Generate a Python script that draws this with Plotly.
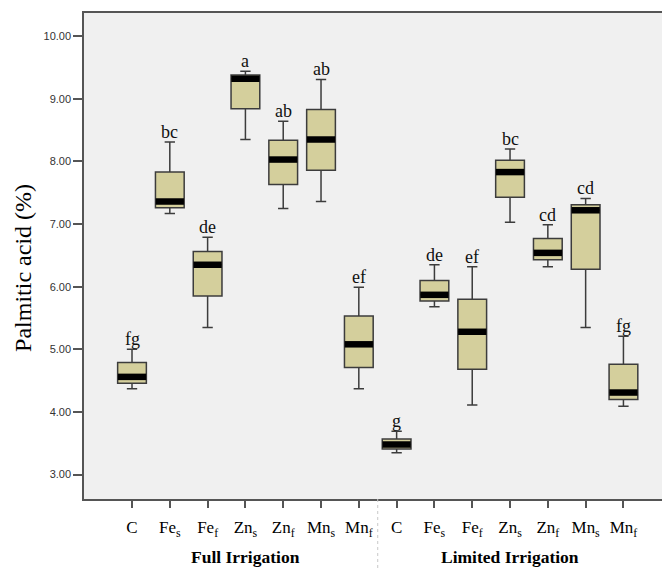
import plotly.graph_objects as go

# ---- data ----
tick_labels = ["C", "Fe<sub>s</sub>", "Fe<sub>f</sub>", "Zn<sub>s</sub>", "Zn<sub>f</sub>",
               "Mn<sub>s</sub>", "Mn<sub>f</sub>",
               "C", "Fe<sub>s</sub>", "Fe<sub>f</sub>", "Zn<sub>s</sub>", "Zn<sub>f</sub>",
               "Mn<sub>s</sub>", "Mn<sub>f</sub>"]
lower  = [4.37, 7.17, 5.35, 8.35, 7.25, 7.36, 4.37, 3.35, 5.68, 4.11, 7.03, 6.32, 5.35, 4.09]
q1     = [4.46, 7.26, 5.85, 8.84, 7.63, 7.86, 4.71, 3.41, 5.77, 4.68, 7.43, 6.43, 6.28, 4.20]
median = [4.56, 7.36, 6.35, 9.32, 8.03, 8.35, 5.08, 3.48, 5.87, 5.28, 7.83, 6.54, 7.22, 4.31]
q3     = [4.79, 7.83, 6.56, 9.38, 8.34, 8.83, 5.53, 3.57, 6.10, 5.80, 8.02, 6.77, 7.31, 4.76]
upper  = [5.00, 8.31, 6.79, 9.44, 8.64, 9.31, 5.99, 3.69, 6.35, 6.32, 8.20, 6.99, 7.41, 5.21]
letters = ["fg", "bc", "de", "a", "ab", "ab", "ef", "g", "de", "ef", "bc", "cd", "cd", "fg"]
groups = ["Full Irrigation", "Limited Irrigation"]
y_ticks = [3, 4, 5, 6, 7, 8, 9, 10]

pos = list(range(len(tick_labels)))

fig = go.Figure()
fig.add_trace(go.Box(
    x=pos, q1=q1, median=median, q3=q3, lowerfence=lower, upperfence=upper,
    boxpoints=False, width=0.76, whiskerwidth=0.36,
    fillcolor="#D4CF9C", line=dict(color="#3C3C3C", width=1.5),
    showlegend=False, hoverinfo="skip"))

# thick black median bands
fig.add_trace(go.Scatter(
    x=pos, y=median, mode="markers",
    marker=dict(symbol="line-ew", size=20.2, color="black",
                line=dict(color="black", width=6.5)),
    showlegend=False, hoverinfo="skip"))

serif = "Liberation Serif, Times New Roman, serif"

annotations = []
for i, (u, t) in enumerate(zip(upper, letters)):
    annotations.append(dict(x=i, y=u, xref="x", yref="y", text=t, showarrow=False,
                            yanchor="bottom", yshift=-2,
                            font=dict(family=serif, size=18, color="#111")))

# group labels
annotations.append(dict(x=3, y=-0.119, xref="x", yref="paper", text="<b>" + groups[0] + "</b>",
                        showarrow=False, yanchor="middle",
                        font=dict(family=serif, size=17.5, color="black")))
annotations.append(dict(x=10, y=-0.119, xref="x", yref="paper", text="<b>" + groups[1] + "</b>",
                        showarrow=False, yanchor="middle",
                        font=dict(family=serif, size=17.5, color="black")))
# y axis title
annotations.append(dict(x=-0.106, y=0.475, xref="paper", yref="paper", text="Palmitic acid (%)",
                        showarrow=False, textangle=-90, xanchor="center", yanchor="middle",
                        font=dict(family=serif, size=24, color="black")))

fig.update_layout(
    width=662, height=568,
    margin=dict(l=84, r=0, t=13, b=69),
    paper_bgcolor="white", plot_bgcolor="#F0F0F0",
    annotations=annotations,
    shapes=[dict(type="line", xref="x", yref="paper", x0=6.5, x1=6.5, y0=0, y1=-0.15,
                 line=dict(color="#C8C8C8", width=1, dash="dot"))],
)
fig.update_xaxes(
    range=[-1.27, 14.02], tickmode="array", tickvals=pos, ticktext=tick_labels,
    showgrid=False, zeroline=False, showline=True, mirror=True,
    linecolor="#555555", linewidth=1.5,
    ticks="outside", ticklen=7, tickcolor="#555555", tickwidth=1.5,
    ticklabelstandoff=5,
    tickfont=dict(family=serif, size=17, color="black"))
fig.update_yaxes(
    range=[2.61, 10.37], tickmode="array", tickvals=y_ticks,
    ticktext=[f"{v:.2f}" for v in y_ticks],
    showgrid=False, zeroline=False, showline=True, mirror=False,
    linecolor="#555555", linewidth=1.5,
    ticks="outside", ticklen=9, tickcolor="#555555", tickwidth=1.5,
    tickfont=dict(family="Liberation Sans, Arial, sans-serif", size=11, color="#333333"))

fig.write_html("out.html")
